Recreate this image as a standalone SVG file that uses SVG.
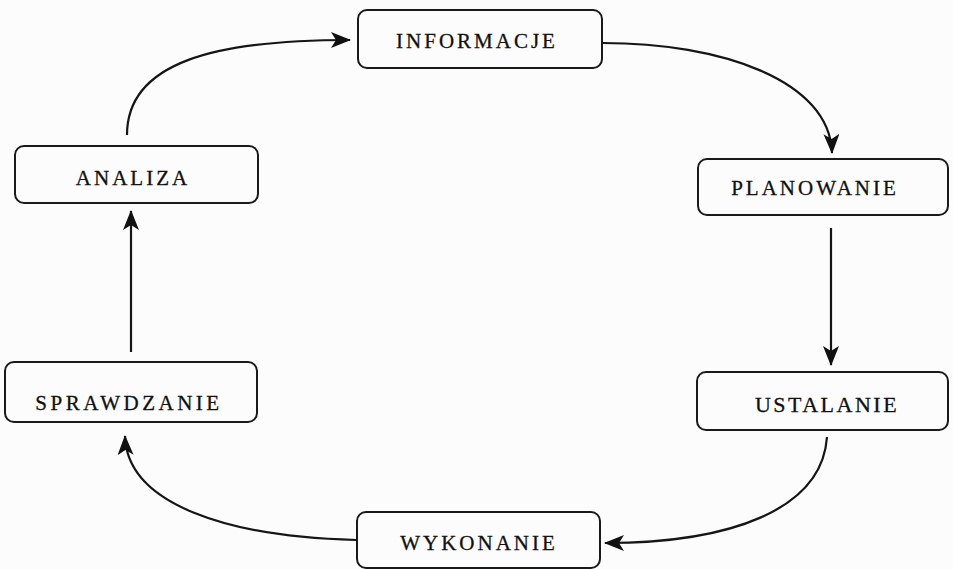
<svg xmlns="http://www.w3.org/2000/svg" width="953" height="569" viewBox="0 0 953 569">
<defs>
<marker id="ah" viewBox="0 0 20 16" refX="19" refY="8" markerWidth="20" markerHeight="16" markerUnits="userSpaceOnUse" orient="auto">
<path d="M0,0 L20,8 L0,16 L5,8 Z" fill="#111"/>
</marker>
<style>
.box{fill:none;stroke:#1a1a1a;stroke-width:2}
.lbl{font-family:"Liberation Serif","Times New Roman",serif;font-size:21px;letter-spacing:3px;fill:#111;stroke:#111;stroke-width:0.3;text-anchor:middle}
.con{fill:none;stroke:#151515;stroke-width:2.2}
</style>
</defs>
<rect width="953" height="569" fill="#fcfcfc"/>
<g id="connectors">
<path class="con" d="M127,135 C127,62 215,40 350,40" marker-end="url(#ah)"/>
<path class="con" d="M603,43 C720,43 830,80 832,153" marker-end="url(#ah)"/>
<path class="con" d="M831,228 L831,365" marker-end="url(#ah)"/>
<path class="con" d="M827,437 C822,510 730,543 605,543" marker-end="url(#ah)"/>
<path class="con" d="M356,540 C230,537 127,505 125,436" marker-end="url(#ah)"/>
<path class="con" d="M131,352 L131,211" marker-end="url(#ah)"/>
</g>
<g id="informacje">
<rect class="box" x="358" y="10" width="244" height="58" rx="9"/>
<text class="lbl" x="477" y="48">INFORMACJE</text>
</g>
<g id="analiza">
<rect class="box" x="15" y="146" width="243" height="57" rx="9"/>
<text class="lbl" x="133" y="185">ANALIZA</text>
</g>
<g id="planowanie">
<rect class="box" x="698" y="159" width="250" height="56" rx="9"/>
<text class="lbl" x="815" y="195">PLANOWANIE</text>
</g>
<g id="sprawdzanie">
<rect class="box" x="5" y="362" width="252" height="60" rx="9"/>
<text class="lbl" x="129" y="410" style="letter-spacing:3.5px">SPRAWDZANIE</text>
</g>
<g id="ustalanie">
<rect class="box" x="697" y="372" width="251" height="58" rx="9"/>
<text class="lbl" x="827" y="412" style="font-size:22px;letter-spacing:2.5px">USTALANIE</text>
</g>
<g id="wykonanie">
<rect class="box" x="357" y="512" width="243" height="56" rx="9"/>
<text class="lbl" x="479" y="550">WYKONANIE</text>
</g>
</svg>
